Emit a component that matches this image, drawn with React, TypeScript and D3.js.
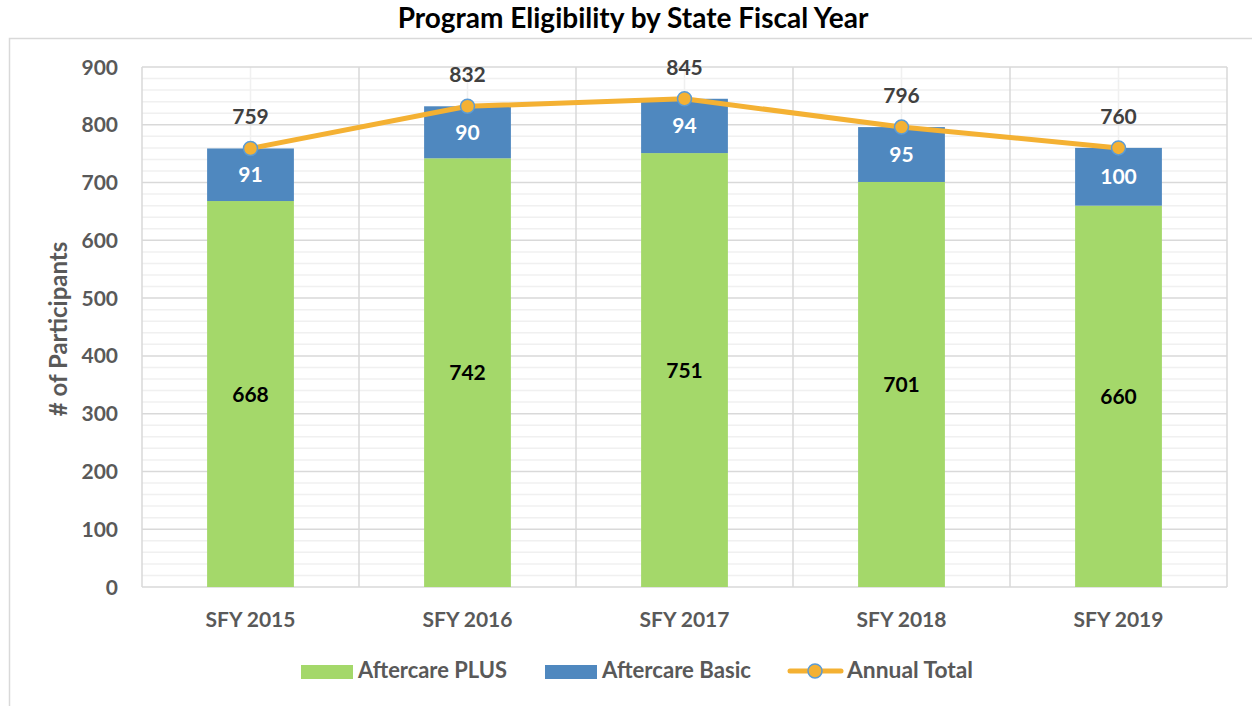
import * as d3 from 'd3';
import React from 'react';

const years = ['SFY 2015', 'SFY 2016', 'SFY 2017', 'SFY 2018', 'SFY 2019'];
const plusValues = [668, 742, 751, 701, 660];
const basicValues = [91, 90, 94, 95, 100];
const totalValues = [759, 832, 845, 796, 760];
const yTicks = [0, 100, 200, 300, 400, 500, 600, 700, 800, 900];
const legendLabels = ['Aftercare PLUS', 'Aftercare Basic', 'Annual Total'];

const FONT = 'Lato, "Open Sans", sans-serif';
const GREEN = '#A4D86A';
const BLUE = '#4F88BF';
const ORANGE = '#F4B133';
const MARKER_STROKE = '#5B9BD5';
const AXIS_TEXT = '#595959';

const width = 1252;
const height = 706;
const marginTop = 67;
const marginBottom = 119;
const marginLeft = 142;
const marginRight = 25;

const App = () => {
  // band scale for categories, bars take 40% of each slot
  const x = d3
    .scaleBand()
    .domain(years)
    .range([marginLeft, width - marginRight])
    .paddingInner(0.6)
    .paddingOuter(0.3);
  const step = x.step();
  const center = (c) => x(c) + x.bandwidth() / 2;

  const y = d3.scaleLinear([0, 900], [height - marginBottom, marginTop]);
  const minorTicks = d3.range(0, 901, 20).filter((v) => v % 100 !== 0);

  const line = d3
    .line()
    .x((d, i) => center(years[i]))
    .y((d) => y(d));

  const plotLeft = marginLeft;
  const plotRight = width - marginRight;
  const boundaries = d3.range(years.length + 1).map((i) => plotLeft + i * step);

  return (
    <svg width={width} height={height} style={{ position: 'absolute', left: 0, top: 0, background: '#fff' }} fontFamily={FONT}>
      <rect x={9.5} y={38.5} width={1300} height={700} fill="#fff" stroke="#D9D9D9" strokeWidth={1.5} />

      <text x={633} y={28} textAnchor="middle" fontSize={28} fontWeight="bold" fill="#000">
        Program Eligibility by State Fiscal Year
      </text>

      {/* minor gridlines */}
      <g stroke="#F0F0F0" strokeWidth={1.5}>
        {minorTicks.map((t) => (
          <line key={t} x1={plotLeft} x2={plotRight} y1={y(t)} y2={y(t)} />
        ))}
        {years.map((c) => (
          <line key={c} x1={center(c)} x2={center(c)} y1={y(900)} y2={y(0)} />
        ))}
      </g>
      {/* major gridlines */}
      <g stroke="#D9D9D9" strokeWidth={1.5}>
        {yTicks.map((t) => (
          <line key={t} x1={plotLeft} x2={plotRight} y1={y(t)} y2={y(t)} />
        ))}
        {boundaries.map((b, i) => (
          <line key={i} x1={b} x2={b} y1={y(900)} y2={y(0)} />
        ))}
      </g>

      {/* y axis labels */}
      <g fontSize={21} fontWeight="bold" fill={AXIS_TEXT} textAnchor="end">
        {yTicks.map((t) => (
          <text key={t} x={118} y={y(t)} dy="0.36em">
            {t}
          </text>
        ))}
      </g>
      <text
        transform={`translate(67,${(y(0) + y(900)) / 2 + 2}) rotate(-90)`}
        textAnchor="middle"
        fontSize={24}
        fontWeight="bold"
        fill={AXIS_TEXT}
      >
        # of Participants
      </text>

      {/* bars */}
      {years.map((c, i) => (
        <g key={c}>
          <rect x={x(c)} width={x.bandwidth()} y={y(plusValues[i])} height={y(0) - y(plusValues[i])} fill={GREEN} />
          <rect
            x={x(c)}
            width={x.bandwidth()}
            y={y(plusValues[i] + basicValues[i])}
            height={y(plusValues[i]) - y(plusValues[i] + basicValues[i])}
            fill={BLUE}
          />
          <text x={center(c)} y={y(plusValues[i] / 2)} dy="0.36em" textAnchor="middle" fontSize={21} fontWeight="bold" fill="#000">
            {plusValues[i]}
          </text>
          <text
            x={center(c)}
            y={y(plusValues[i] + basicValues[i] / 2)}
            dy="0.36em"
            textAnchor="middle"
            fontSize={21}
            fontWeight="bold"
            fill="#fff"
          >
            {basicValues[i]}
          </text>
          <text x={center(c)} y={y(0) + 40} textAnchor="middle" fontSize={21} fontWeight="bold" fill={AXIS_TEXT}>
            {c}
          </text>
        </g>
      ))}

      {/* annual total line */}
      <path d={line(totalValues)} fill="none" stroke={ORANGE} strokeWidth={5} strokeLinejoin="round" />
      {totalValues.map((v, i) => (
        <g key={i}>
          <circle cx={center(years[i])} cy={y(v)} r={7} fill={ORANGE} stroke={MARKER_STROKE} strokeWidth={1.5} />
          <text x={center(years[i])} y={y(v) - 24} textAnchor="middle" fontSize={21} fontWeight="bold" fill="#404040">
            {v}
          </text>
        </g>
      ))}

      {/* legend */}
      <g fontSize={22} fontWeight="bold" fill={AXIS_TEXT}>
        <rect x={301} y={665} width={52} height={14} fill={GREEN} />
        <text x={358} y={678} textLength={149} lengthAdjust="spacingAndGlyphs">
          {legendLabels[0]}
        </text>
        <rect x={545} y={665} width={52} height={14} fill={BLUE} />
        <text x={602} y={678} textLength={149} lengthAdjust="spacingAndGlyphs">
          {legendLabels[1]}
        </text>
        <line x1={790} x2={841} y1={671} y2={671} stroke={ORANGE} strokeWidth={5} strokeLinecap="round" />
        <circle cx={815} cy={671} r={7} fill={ORANGE} stroke={MARKER_STROKE} strokeWidth={1.5} />
        <text x={847} y={678} textLength={126} lengthAdjust="spacingAndGlyphs">
          {legendLabels[2]}
        </text>
      </g>
    </svg>
  );
};

export default App;
